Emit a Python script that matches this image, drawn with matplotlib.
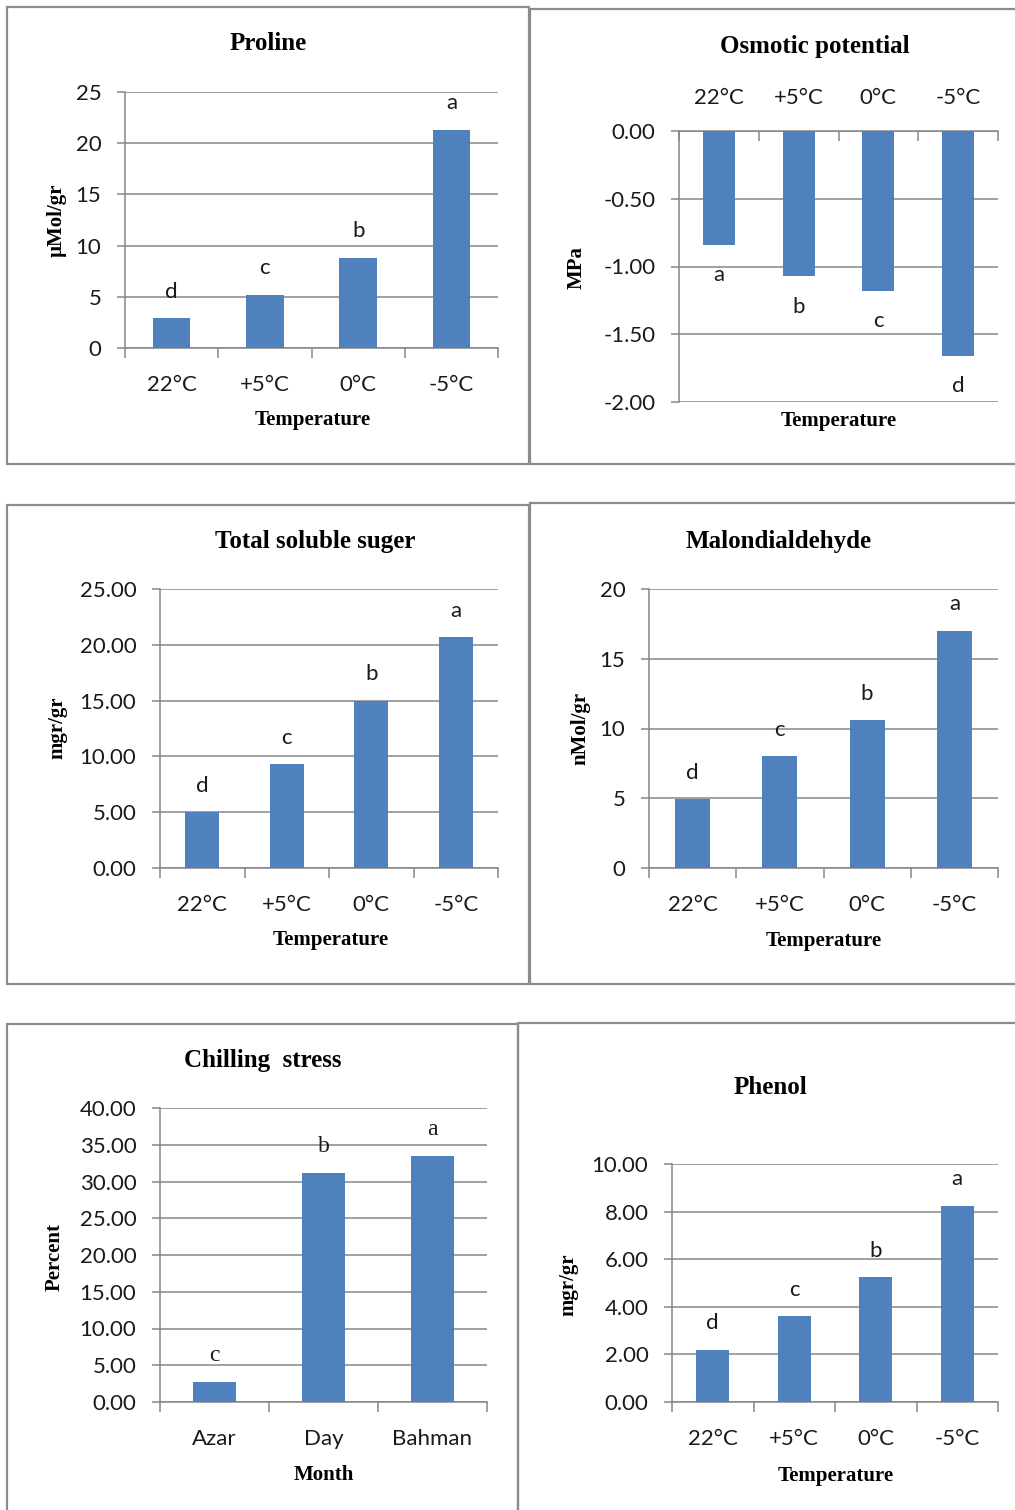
import matplotlib
matplotlib.use("Agg")
import matplotlib.pyplot as plt
from matplotlib.patches import Rectangle
from matplotlib.ticker import FuncFormatter, FixedLocator

# data
temps = ["22°C", "+5°C", "0°C", "-5°C"]
months = ["Azar", "Day", "Bahman"]

proline = [2.9, 5.2, 8.8, 21.3]
proline_sig = ["d", "c", "b", "a"]

osmotic = [-0.84, -1.07, -1.18, -1.66]
osmotic_sig = ["a", "b", "c", "d"]

sugar = [5.0, 9.3, 15.0, 20.7]
sugar_sig = ["d", "c", "b", "a"]

mda = [4.95, 8.0, 10.6, 17.0]
mda_sig = ["d", "c", "b", "a"]

chilling = [2.7, 31.2, 33.5]
chilling_sig = ["c", "b", "a"]

phenol = [2.2, 3.6, 5.25, 8.25]
phenol_sig = ["d", "c", "b", "a"]

W, H = 1015, 1510
BAR = "#4F81BD"
GRID = "#868686"
BORDER = "#8C8C8C"
SANS = "Lato"
SERIF = "Liberation Serif"

fig = plt.figure(figsize=(W / 100, H / 100), dpi=100)
fig.patch.set_facecolor("white")


def frame(x0, y0, x1, y1):
    # grey border around each chart block (pixel coords)
    fig.add_artist(Rectangle((x0 / W, 1 - y1 / H), (x1 - x0) / W, (y1 - y0) / H,
                             transform=fig.transFigure, fill=False,
                             edgecolor=BORDER, linewidth=1.6))


def ftext(x, y, s, **kw):
    fig.text(x / W, 1 - y / H, s, ha="center", va="center", **kw)


def panel(box, cats, vals, sig, ylim, step, fmt, ylabel, xlabel,
          title, tpos, ypos, xpos, sig_font=SANS, top_axis=False):
    x0, x1, y0, y1 = box
    ax = fig.add_axes([x0 / W, 1 - y1 / H, (x1 - x0) / W, (y1 - y0) / H])
    n = len(cats)
    xs = list(range(n))
    ax.bar(xs, vals, width=0.4, color=BAR, zorder=3)
    ax.set_xlim(-0.5, n - 0.5)
    ax.set_ylim(*ylim)
    ticks = []
    v = ylim[0]
    while v <= ylim[1] + 1e-9:
        ticks.append(round(v, 4))
        v += step
    ax.yaxis.set_major_locator(FixedLocator(ticks))
    ax.yaxis.set_major_formatter(FuncFormatter(lambda t, p: fmt.format(t)))
    ax.grid(axis="y", color=GRID, linewidth=1.1, zorder=0)
    ax.set_axisbelow(True)
    for s in ["right", "top", "bottom", "left"]:
        ax.spines[s].set_visible(False)
    ax.spines["left"].set_visible(True)
    ax.spines["left"].set_color(GRID)
    ax.spines["left"].set_linewidth(1.1)
    ax.set_xticks(xs)
    ax.set_xticklabels(cats)
    ax.set_xticks([i - 0.5 for i in range(n + 1)], minor=True)
    if top_axis:
        ax.xaxis.tick_top()
        ax.spines["top"].set_visible(True)
        ax.spines["top"].set_color(GRID)
        ax.spines["top"].set_linewidth(1.1)
        ax.tick_params(axis="x", which="minor", direction="in", length=7,
                       width=1.1, color=GRID, top=True, bottom=False)
        xpad = 16.5
    else:
        ax.spines["bottom"].set_visible(True)
        ax.spines["bottom"].set_color(GRID)
        ax.spines["bottom"].set_linewidth(1.1)
        ax.tick_params(axis="x", which="minor", direction="out", length=7,
                       width=1.1, color=GRID)
        xpad = 19.5
    ax.tick_params(axis="x", which="major", length=0, pad=xpad,
                   labelsize=16, labelcolor="#1a1a1a")
    ax.tick_params(axis="y", which="major", direction="out", length=6,
                   width=1.1, color=GRID, pad=11, labelsize=16,
                   labelcolor="#1a1a1a")
    for lab in ax.get_xticklabels() + ax.get_yticklabels():
        lab.set_fontfamily(SANS)
    # significance letters just beyond the bar end
    for x, val, s in zip(xs, vals, sig):
        off = 19 if val >= 0 else -22
        ax.annotate(s, (x, val), xytext=(0, off), textcoords="offset points",
                    ha="center", va="center", fontsize=16 if sig_font == SANS else 17,
                    family=sig_font, color="#1a1a1a")
    ftext(tpos[0], tpos[1], title, fontsize=18, fontweight="bold", family=SERIF)
    ftext(ypos[0], ypos[1], ylabel, fontsize=15, fontweight="bold", family=SERIF,
          rotation=90)
    ftext(xpos[0], xpos[1], xlabel, fontsize=15, fontweight="bold", family=SERIF)
    return ax


frame(7, 7, 529, 464)
frame(530, 9, 1030, 464)
frame(7, 505, 529, 984)
frame(530, 503, 1030, 984)
frame(7, 1024, 518, 1530)
frame(518, 1023, 1030, 1530)

panel((125, 498, 92, 348), temps, proline, proline_sig, (0, 25), 5, "{:.0f}",
      "µMol/gr", "Temperature", "Proline", (268, 43), (57, 220), (313, 420))

panel((679, 998, 131, 402), temps, osmotic, osmotic_sig, (-2, 0), 0.5, "{:.2f}",
      "MPa", "Temperature", "Osmotic potential", (815, 46), (577, 268), (839, 421),
      top_axis=True)

panel((160, 498, 589, 868), temps, sugar, sugar_sig, (0, 25), 5, "{:.2f}",
      "mgr/gr", "Temperature", "Total soluble suger", (315, 541), (57, 728), (331, 940))

panel((649, 998, 589, 868), temps, mda, mda_sig, (0, 20), 5, "{:.0f}",
      "nMol/gr", "Temperature", "Malondialdehyde", (779, 541), (580, 728), (824, 941))

panel((160, 487, 1108, 1402), months, chilling, chilling_sig, (0, 40), 5, "{:.2f}",
      "Percent", "Month", "Chilling  stress", (263, 1061), (55, 1257), (324, 1475),
      sig_font=SERIF)

panel((672, 998, 1164, 1402), temps, phenol, phenol_sig, (0, 10), 2, "{:.2f}",
      "mgr/gr", "Temperature", "Phenol", (770, 1087), (568, 1285), (836, 1476))

fig.savefig("out.png", dpi=100, facecolor="white")
